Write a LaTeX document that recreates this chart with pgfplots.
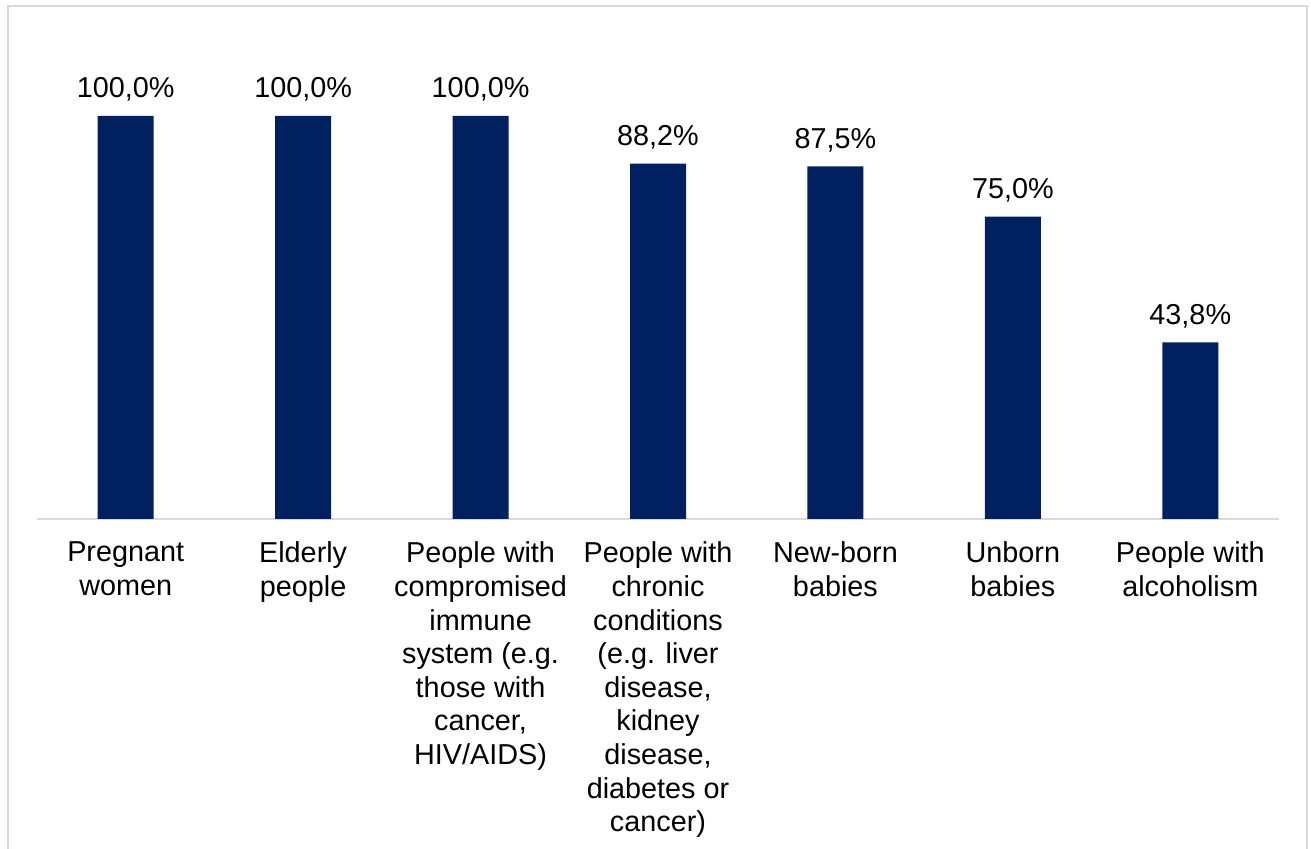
\documentclass[border=0pt]{standalone}
\usepackage{fontspec}
\setmainfont{Liberation Sans}
\usepackage{pgfplots}
\pgfplotsset{compat=1.18}
\definecolor{barblue}{RGB}{0,32,96}
\definecolor{framegray}{RGB}{217,217,217}
\begin{document}
\begin{tikzpicture}
% fixed page size
\useasboundingbox (0,0) rectangle (655.5pt,424.5pt);
% chart frame
\draw[line width=0.75pt, framegray] (4pt,-10pt) -- (4pt,421.5pt) -- (653.5pt,421.5pt) -- (653.5pt,-10pt);
\begin{axis}[
  at={(18.5pt,165pt)}, anchor=south west,
  scale only axis, width=621pt, height=201.5pt,
  ymin=0, ymax=100, xmin=-0.5, xmax=6.5,
  axis y line=none,
  axis x line*=bottom,
  x axis line style={framegray, line width=1pt, -},
  major tick length=0pt,
  xtick=data,
  xticklabels={
    {Pregnant\\women},
    {Elderly\\people},
    {People with\\compromised\\immune\\system (e.g.\\those with\\cancer,\\HIV/AIDS)},
    {People with\\chronic\\conditions\\(e.g. liver\\disease,\\kidney\\disease,\\diabetes or\\cancer)},
    {New-born\\babies},
    {Unborn\\babies},
    {People with\\alcoholism}},
  xticklabel style={align=center, anchor=north, font=\fontsize{14.4}{16.8}\selectfont, text=black, yshift=-8pt},
  clip=false,
  /pgf/number format/assume math mode=true,
  ybar, bar width=28pt,
  nodes near coords={\pgfmathprintnumber[fixed,fixed zerofill,precision=1,use comma]{\pgfplotspointmeta}\%},
  every node near coord/.append style={font=\fontsize{14.4}{16.8}\selectfont, text=black, anchor=base, yshift=9pt},
]
\addplot[fill=barblue, draw=none] coordinates {
  (0,100.0) (1,100.0) (2,100.0) (3,88.2) (4,87.5) (5,75.0) (6,43.8)
};
\end{axis}
\end{tikzpicture}
\end{document}
